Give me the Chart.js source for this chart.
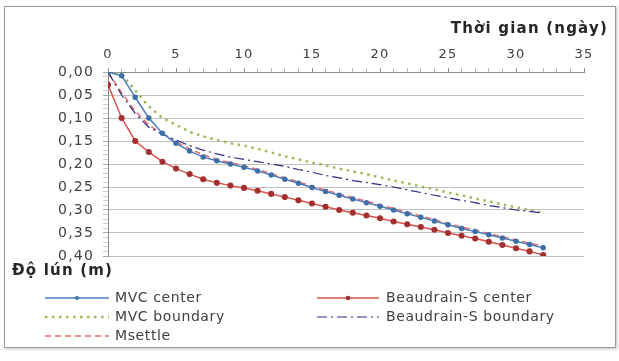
<!DOCTYPE html>
<html>
<head>
<meta charset="utf-8">
<script src="https://cdn.jsdelivr.net/npm/chart.js@4/dist/chart.umd.min.js"></script>
<style>
  html, body { margin: 0; padding: 0; background: #fff; }
  #wrap { position: relative; width: 619px; height: 361px; }
  #frame {
    position: absolute; left: 4px; top: 6px; width: 610px; height: 340px;
    border: 1px solid #9a9a9a; box-shadow: 1px 1px 3px rgba(0,0,0,0.25);
  }
  canvas { position: absolute; left: 0; top: 0; }
</style>
</head>
<body>
<div id="wrap">
  <div id="frame"></div>
  <canvas id="chart" width="619" height="361"></canvas>
</div>
<script>
// Settlement vs time (days)
const days = [0, 1, 2, 3, 4, 5, 6, 7, 8, 9, 10, 11, 12, 13, 14, 15, 16,
  17, 18, 19, 20, 21, 22, 23, 24, 25, 26, 27, 28, 29, 30, 31, 32];

const mvcCenter = [0.000, 0.008, 0.055, 0.100, 0.133, 0.155, 0.172, 0.185, 0.193, 0.200, 0.207,
  0.215, 0.224, 0.233, 0.242, 0.251, 0.260, 0.268, 0.276, 0.284, 0.292, 0.300, 0.308,
  0.316, 0.324, 0.332, 0.340, 0.347, 0.354, 0.361, 0.368, 0.375, 0.382];

const beaudrainCenter = [0.028, 0.100, 0.150, 0.174, 0.195, 0.210, 0.222, 0.233, 0.241, 0.247, 0.252,
  0.258, 0.265, 0.272, 0.279, 0.286, 0.293, 0.300, 0.306, 0.312, 0.318, 0.325, 0.331,
  0.337, 0.343, 0.350, 0.356, 0.362, 0.369, 0.376, 0.383, 0.390, 0.398];

const mvcBoundary = [0.000, 0.005, 0.040, 0.075, 0.100, 0.115, 0.130, 0.140, 0.148, 0.155, 0.160,
  0.167, 0.175, 0.183, 0.190, 0.197, 0.203, 0.210, 0.216, 0.222, 0.229, 0.236, 0.242,
  0.249, 0.255, 0.262, 0.268, 0.275, 0.281, 0.288, 0.294, 0.300, 0.306];

const beaudrainBoundary = [0.000, 0.050, 0.090, 0.120, 0.135, 0.148, 0.160, 0.170, 0.178, 0.185, 0.190,
  0.195, 0.200, 0.205, 0.212, 0.218, 0.225, 0.230, 0.236, 0.240, 0.245, 0.250, 0.256,
  0.262, 0.268, 0.273, 0.279, 0.284, 0.290, 0.295, 0.300, 0.303, 0.307];

const msettle = [0.000, 0.045, 0.085, 0.115, 0.135, 0.152, 0.167, 0.180, 0.190, 0.197, 0.204,
  0.212, 0.221, 0.230, 0.239, 0.248, 0.257, 0.265, 0.273, 0.281, 0.289, 0.297, 0.305,
  0.313, 0.321, 0.329, 0.337, 0.344, 0.351, 0.358, 0.365, 0.372, 0.379];

const xTicks = [0, 5, 10, 15, 20, 25, 30, 35];
const xTitle = "Thời gian (ngày)";
const yTitle = "Độ lún (m)";

const FONT = "'DejaVu Sans', sans-serif";

function pts(ys) {
  return days.map((d, i) => ({ x: d, y: ys[i] }));
}

const datasets = [
  {
    label: "MVC center", data: pts(mvcCenter),
    borderColor: "#4a7ebb", borderWidth: 1.5,
    pointRadius: 2, pointBackgroundColor: "#3d6fa8", pointBorderColor: "#3d6fa8",
    legendCol: 0, legendRow: 0, order: 2
  },
  {
    label: "Beaudrain-S center", data: pts(beaudrainCenter),
    borderColor: "#d9534f", borderWidth: 1.5,
    pointRadius: 2.3, pointBackgroundColor: "#a33030", pointBorderColor: "#a33030",
    legendCol: 1, legendRow: 0, order: 1
  },
  {
    label: "MVC boundary", data: pts(mvcBoundary),
    borderColor: "#9bbb59", borderWidth: 2.5, borderDash: [2.5, 4.5],
    pointRadius: 0,
    legendCol: 0, legendRow: 1, order: 4
  },
  {
    label: "Beaudrain-S boundary", data: pts(beaudrainBoundary),
    borderColor: "#2a2a80", borderWidth: 1.2, borderDash: [10, 4, 2, 4],
    pointRadius: 0,
    legendCol: 1, legendRow: 1, order: 3
  },
  {
    label: "Msettle", data: pts(msettle),
    borderColor: "#e86a6a", borderWidth: 1.5, borderDash: [6, 4],
    pointRadius: 0,
    legendCol: 0, legendRow: 2, order: 5
  }
];

// a little extra tracking, the source text is wide
const spacingPlugin = {
  id: "spacing",
  beforeDraw(chart) { chart.ctx.letterSpacing = "1.2px"; }
};

// custom legend and axis titles, Excel-style
const extrasPlugin = {
  id: "extras",
  afterDraw(chart) {
    const ctx = chart.ctx;
    ctx.save();
    ctx.fillStyle = "#262626";
    ctx.font = "bold 15px " + FONT;
    ctx.letterSpacing = "1.2px";
    ctx.textBaseline = "middle";
    ctx.textAlign = "right";
    ctx.fillText(xTitle, 608, 29);
    ctx.textAlign = "left";
    ctx.fillText(yTitle, 12, 271);

    const cols = [{ x0: 45, x1: 109, tx: 115 }, { x0: 317, x1: 379, tx: 386 }];
    const rowY = [298, 317, 336];
    ctx.font = "14px " + FONT;
    ctx.letterSpacing = "0.6px";
    chart.data.datasets.forEach(ds => {
      const c = cols[ds.legendCol];
      const y = rowY[ds.legendRow];
      ctx.strokeStyle = ds.borderColor;
      ctx.lineWidth = ds.borderWidth;
      ctx.setLineDash(ds.borderDash || []);
      ctx.beginPath();
      ctx.moveTo(c.x0, y);
      ctx.lineTo(c.x1, y);
      ctx.stroke();
      ctx.setLineDash([]);
      if (ds.pointRadius > 0) {
        ctx.fillStyle = ds.pointBackgroundColor;
        ctx.beginPath();
        ctx.arc((c.x0 + c.x1) / 2, y, ds.pointRadius, 0, Math.PI * 2);
        ctx.fill();
      }
      ctx.fillStyle = "#404040";
      ctx.fillText(ds.label, c.tx, y);
    });
    ctx.restore();
  }
};

new Chart(document.getElementById("chart"), {
  type: "line",
  data: { datasets: datasets },
  options: {
    responsive: false,
    animation: false,
    layout: { padding: { left: 0, top: 0, right: 35, bottom: 105 } },
    plugins: { legend: { display: false }, tooltip: { enabled: false } },
    elements: { line: { tension: 0 } },
    scales: {
      x: {
        type: "linear", position: "top", min: 0, max: 35,
        afterFit(scale) { scale.height = 72; },
        afterBuildTicks(scale) {
          const t = [];
          for (let v = 0; v <= 35; v++) t.push({ value: v });
          scale.ticks = t;
        },
        ticks: {
          autoSkip: false, maxRotation: 0, padding: 6,
          color: "#404040", font: { family: FONT, size: 13 },
          callback: v => xTicks.includes(v) ? String(v) : ""
        },
        grid: {
          drawOnChartArea: false, tickLength: 4,
          tickColor: c => (c.tick && c.tick.value % 5 === 0) ? "#8c8c8c" : "#bdbdbd"
        },
        border: { display: true, color: "#8c8c8c", width: 1 }
      },
      y: {
        type: "linear", reverse: true, min: 0, max: 0.4,
        afterFit(scale) { scale.width = 108; },
        afterBuildTicks(scale) {
          const t = [];
          for (let i = 0; i <= 40; i++) t.push({ value: i / 100 });
          scale.ticks = t;
        },
        ticks: {
          autoSkip: false, padding: 9,
          color: "#404040", font: { family: FONT, size: 14 },
          callback: v => Math.round(v * 100) % 5 === 0 ? v.toFixed(2).replace(".", ",") : ""
        },
        grid: {
          tickLength: 5,
          color: c => (c.tick && Math.round(c.tick.value * 100) % 5 === 0 && c.tick.value > 0.001) ? "#bfbfbf" : "rgba(0,0,0,0)",
          tickColor: c => (c.tick && Math.round(c.tick.value * 100) % 5 === 0) ? "#a6a6a6" : "#d0d0d0"
        },
        border: { display: true, color: "#8c8c8c", width: 1 }
      }
    }
  },
  plugins: [spacingPlugin, extrasPlugin]
});
</script>
</body>
</html>
